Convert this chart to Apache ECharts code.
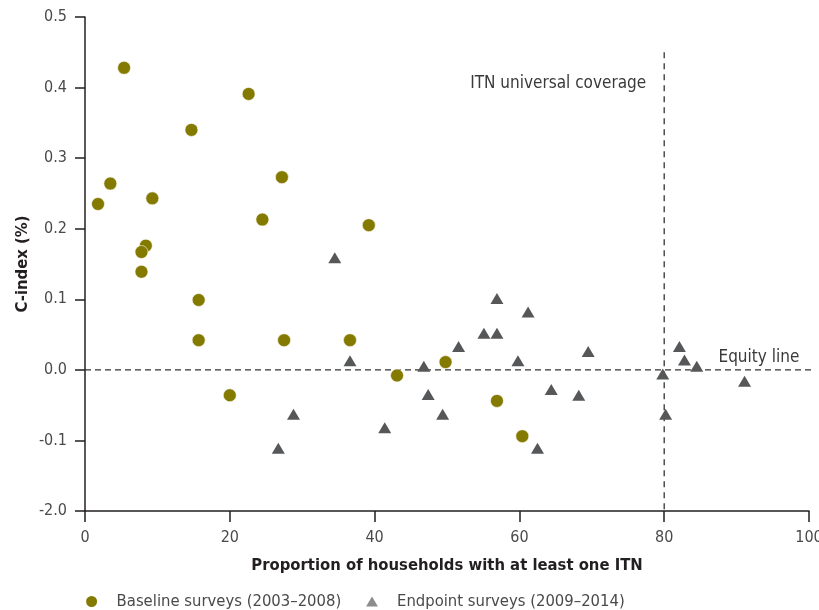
<!DOCTYPE html>
<html>
<head>
<meta charset="utf-8">
<script src="https://cdn.jsdelivr.net/npm/echarts@6/dist/echarts.min.js"></script>
<style>
html,body{margin:0;padding:0;background:#fff;}
#chart{width:819px;height:610px;}
</style>
</head>
<body>
<div id="chart"></div>
<script>
// ---- data ----
const baselineName = 'Baseline surveys (2003\u20132008)';
const endpointName = 'Endpoint surveys (2009\u20132014)';
const baselineX = [5.4, 22.6, 14.7, 27.2, 3.5, 1.8, 9.3, 24.5, 39.2, 8.4, 7.8, 7.8, 15.7, 15.7, 27.5, 36.6, 43.1, 20.0, 49.8, 56.9, 60.4];
const baselineY = [0.428, 0.391, 0.340, 0.273, 0.264, 0.235, 0.243, 0.213, 0.205, 0.176, 0.167, 0.139, 0.099, 0.042, 0.042, 0.042, -0.008, -0.036, 0.011, -0.044, -0.094];
const endpointX = [34.5, 36.6, 28.8, 41.4, 26.7, 56.9, 61.2, 55.1, 56.9, 51.6, 69.5, 46.8, 59.8, 47.4, 64.4, 68.2, 49.4, 62.5, 82.1, 82.8, 84.5, 79.8, 91.1, 80.2];
const endpointY = [0.159, 0.013, -0.063, -0.082, -0.111, 0.101, 0.082, 0.052, 0.052, 0.033, 0.026, 0.005, 0.013, -0.035, -0.028, -0.036, -0.063, -0.111, 0.033, 0.014, 0.005, -0.006, -0.016, -0.063];
const yTickLabels = ['-2.0', '-0.1', '0.0', '0.1', '0.2', '0.3', '0.4', '0.5'];
const xTickLabels = ['0', '20', '40', '60', '80', '100'];
const coverageX = 80;
const coverageTop = 0.45;
const equityY = 0;
const equityEndX = 101.4;
const coverageLabel = 'ITN universal coverage';
const equityLabel = 'Equity line';
const xAxisTitle = 'Proportion of households with at least one ITN';
const yAxisTitle = 'C-index (%)';

const FONT = "'DejaVu Sans Condensed','Liberation Sans Narrow',sans-serif";
const baselineData = baselineX.map((x, i) => [x, baselineY[i]]);
const endpointData = endpointX.map((x, i) => [x, endpointY[i]]);
const legendText = {fontFamily: FONT, fontSize: 16.5, color: '#4a4a4a'};

const chart = echarts.init(document.getElementById('chart'), null, {renderer: 'canvas'});
chart.setOption({
  animation: false,
  backgroundColor: '#ffffff',
  grid: {left: 85, right: 10, top: 17, bottom: 99, containLabel: false, outerBoundsMode: 'none'},
  xAxis: {
    type: 'value', min: 0, max: 100, interval: 20,
    name: xAxisTitle, nameLocation: 'middle', nameGap: 46, nameMoveOverlap: false,
    nameTextStyle: {fontFamily: FONT, fontSize: 16.5, fontWeight: 'bold', color: '#231f20'},
    axisLine: {onZero: false, lineStyle: {color: '#231f20', width: 1.5}},
    axisTick: {length: 11, lineStyle: {color: '#231f20', width: 1.5}},
    axisLabel: {margin: 19, fontFamily: FONT, fontSize: 16, color: '#4a4a4a',
      formatter: v => xTickLabels[Math.round(v / 20)]},
    splitLine: {show: false}
  },
  yAxis: {
    type: 'value', min: -0.2, max: 0.5, interval: 0.1,
    name: yAxisTitle, nameLocation: 'middle', nameGap: 54, nameMoveOverlap: false,
    nameTextStyle: {fontFamily: FONT, fontSize: 16.5, fontWeight: 'bold', color: '#231f20'},
    axisLine: {show: true, onZero: false, lineStyle: {color: '#231f20', width: 1.5}},
    axisTick: {show: true, length: 10, lineStyle: {color: '#231f20', width: 1.5}},
    axisLabel: {margin: 18, fontFamily: FONT, fontSize: 16, color: '#4a4a4a',
      formatter: v => yTickLabels[Math.round((v + 0.2) / 0.1)]},
    splitLine: {show: false}
  },
  legend: [
    {
      top: 593, left: 84.1, padding: 0,
      itemWidth: 40, itemHeight: 13, symbolKeepAspect: true,
      textStyle: legendText,
      data: [{name: baselineName, icon: 'circle', itemStyle: {color: '#857a00'}}]
    },
    {
      top: 593, left: 366.1, padding: 0,
      itemWidth: 40, itemHeight: 10, symbolKeepAspect: true,
      textStyle: legendText,
      data: [{name: endpointName, icon: 'path://M6.5,0L13,11L0,11Z', symbolKeepAspect: true, itemStyle: {color: '#8c8c8c'}}]
    }
  ],
  series: [
    {
      name: '_equity', type: 'line', data: [[0, equityY], [equityEndX, equityY]],
      symbol: 'none', clip: false, silent: true, z: 1,
      lineStyle: {color: '#333333', width: 1.3, type: [6, 4]}
    },
    {
      name: '_coverage', type: 'line', data: [[coverageX, coverageTop], [coverageX, -0.2]],
      symbol: 'none', clip: false, silent: true, z: 1,
      lineStyle: {color: '#333333', width: 1.3, type: [6, 5]}
    },
    {
      name: baselineName, type: 'scatter', symbol: 'circle', symbolSize: 13,
      data: baselineData, z: 3,
      itemStyle: {color: '#857a00', borderColor: '#ffffff', borderWidth: 0.6, opacity: 1},
      markPoint: {
        symbol: 'circle', symbolSize: 0, silent: true,
        label: {show: true, fontFamily: FONT, fontSize: 17, color: '#3a3a3a'},
        data: [
          {coord: [coverageX, 0.405], value: coverageLabel,
            label: {position: 'left', distance: 18, formatter: coverageLabel}},
          {coord: [87.5, 0.018], value: equityLabel,
            label: {position: 'right', distance: 0, formatter: equityLabel}}
        ]
      }
    },
    {
      name: endpointName, type: 'scatter', symbol: 'triangle', symbolSize: [13, 11],
      data: endpointData, z: 3,
      itemStyle: {color: '#555759', opacity: 1}
    }
  ]
});
</script>
</body>
</html>
